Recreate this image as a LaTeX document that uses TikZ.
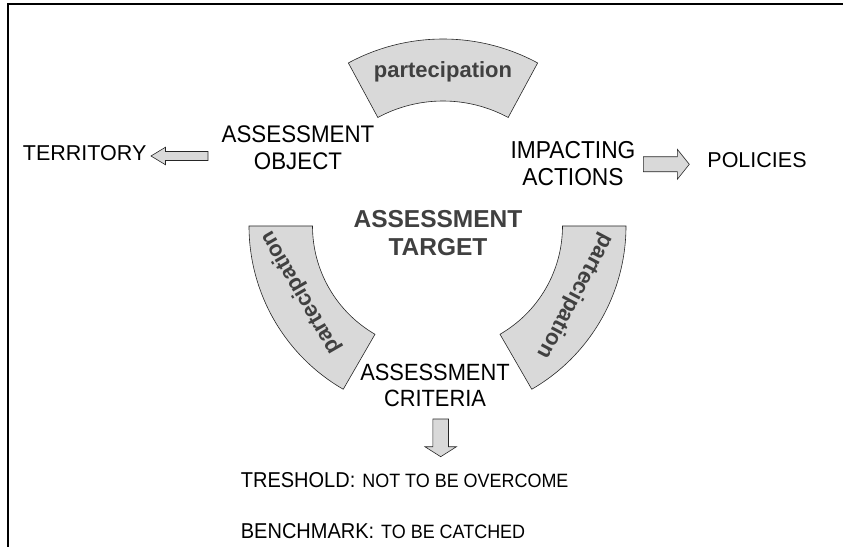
\documentclass[tikz,border=0pt]{standalone}
\usepackage{fontspec}
\setmainfont{Liberation Sans}
\newfontfamily\narrowsans{Liberation Sans}[FakeStretch=0.93]
\usepackage{tikz}

\definecolor{partfill}{RGB}{217,217,217}
\definecolor{darktext}{RGB}{64,64,64}
\tikzset{
	partsector/.style={draw=black!85,line width=0.6pt,fill=partfill},
	parttext/.style={text=darktext,font=\bfseries\fontsize{22}{26}\selectfont,inner sep=0pt},
	blockarrow/.style={draw=black!85,line width=0.6pt,fill=partfill},
	labeltext/.style={align=center,inner sep=0pt},
}

\begin{document}
\begin{tikzpicture}[x=1pt,y=1pt]
	\useasboundingbox (0,0) rectangle (843,547);
	\draw [line width=2pt] (843,543.3) -- (7.7,543.3) -- (7.7,0);

	\coordinate (RING_TOP) at (443,309);
	\coordinate (RING_LOW) at (437.5,321);

	\draw [partsector] (RING_TOP) ++(61.6:199) arc[start angle=61.6,end angle=118.4,radius=199] -- ++(298.4:62) arc[start angle=118.4,end angle=61.6,radius=137] -- cycle;
	\draw [partsector] (RING_LOW) ++(180:188.5) arc[start angle=180,end angle=240,radius=188.5] -- ++(60:63.5) arc[start angle=240,end angle=180,radius=125] -- cycle;
	\draw [partsector] (RING_LOW) ++(300:188.5) arc[start angle=300,end angle=360,radius=188.5] -- ++(180:63.5) arc[start angle=360,end angle=300,radius=125] -- cycle;

	\node [parttext,anchor=base] (PART_TOP) at (443,469.3) {partecipation};
	\node [parttext,rotate=120] (PART_LEFT) at (300.9,254.4) {partecipation};
	\node [parttext,rotate=242] (PART_RIGHT) at (575,251) {partecipation};

	\node [labeltext,font=\narrowsans\fontsize{24}{26.6}\selectfont] (OBJECT) at (298,399.3) {ASSESSMENT\\OBJECT};
	\node [labeltext,font=\narrowsans\fontsize{24.5}{26.7}\selectfont] (ACTIONS) at (573,383.3) {IMPACTING\\ACTIONS};
	\node [labeltext,text=darktext,font=\bfseries\fontsize{24.5}{27.7}\selectfont] (TARGET) at (438,313.7) {ASSESSMENT\\TARGET};
	\node [labeltext,font=\narrowsans\fontsize{23.5}{25.3}\selectfont] (CRITERIA) at (435,161.7) {ASSESSMENT\\CRITERIA};
	\node [labeltext,font=\fontsize{21.5}{26}\selectfont] (TERRITORY) at (84.7,394) {TERRITORY};
	\node [labeltext,font=\fontsize{21.5}{26}\selectfont] (POLICIES) at (757,387.2) {POLICIES};

	\node [anchor=base west,inner sep=0pt] (TRESHOLD) at (240.7,59.7) {{\narrowsans\fontsize{21.5}{24}\selectfont TRESHOLD:}\hspace{7pt}{\narrowsans\fontsize{19.3}{22}\selectfont NOT TO BE OVERCOME}};
	\node [anchor=base west,inner sep=0pt] (BENCHMARK) at (240.7,8.7) {{\narrowsans\fontsize{21.5}{24}\selectfont BENCHMARK:}\hspace{7pt}{\narrowsans\fontsize{19.3}{22}\selectfont TO BE CATCHED}};

	\coordinate (TERR_TIP) at (151,391);
	\draw [blockarrow] (TERR_TIP) -- ++(14.5,8.8) -- ++(0,-4.3) -- ++(42.5,0) -- ++(0,-9) -- ++(-42.5,0) -- ++(0,-4.3) -- cycle;
	\coordinate (POL_TIP) at (689.3,382.7);
	\draw [blockarrow] (POL_TIP) -- ++(-12,15) -- ++(0,-7.5) -- ++(-34,0) -- ++(0,-15) -- ++(34,0) -- ++(0,-7.5) -- cycle;
	\coordinate (CRIT_TIP) at (440.7,90.3);
	\draw [blockarrow] (CRIT_TIP) -- ++(-15.8,10) -- ++(8,0) -- ++(0,27.7) -- ++(15.6,0) -- ++(0,-27.7) -- ++(8,0) -- cycle;

\end{tikzpicture}
\end{document}
